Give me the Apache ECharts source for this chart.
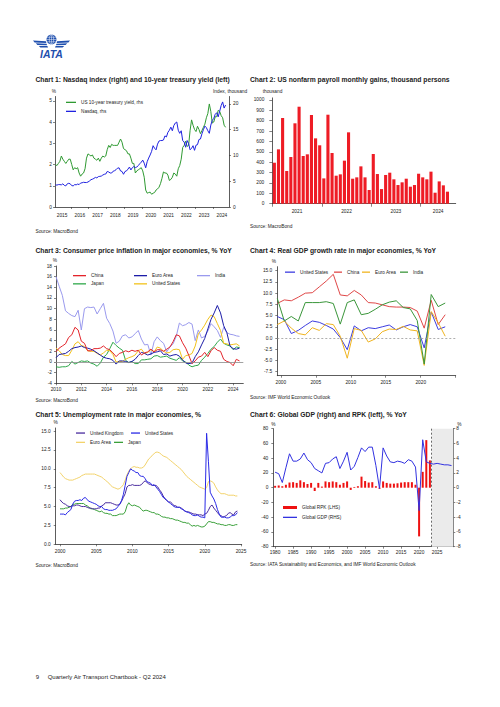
<!DOCTYPE html>
<html><head><meta charset="utf-8"><title>Quarterly Air Transport Chartbook - Q2 2024, page 9</title>
<script src="https://cdn.jsdelivr.net/npm/echarts@6.0.0/dist/echarts.min.js"></script>
<style>html,body{margin:0;padding:0;background:#fff;}#page{width:500px;height:707px;}</style>
</head><body><div id="page"></div>
<script>
const FONT = '"Liberation Sans", Arial, Helvetica, sans-serif';
const INK = '#222';

// ---------- Chart 1: monthly, Feb 2015 - Sep 2024 ----------
const c1FirstYear = 2015, c1FirstMonth = 2;
const c1YearLabels = [2015, 2016, 2017, 2018, 2019, 2020, 2021, 2022, 2023, 2024];
const nasdaq = [ // index, thousand (rhs)
  4.3, 4.25, 4.35, 4.35, 4.3, 4.5, 4.2, 4.1, 4.5, 4.6, 4.5,
  4.15, 4.1, 4.35, 4.3, 4.45, 4.35, 4.65, 4.7, 4.8, 4.75, 4.75, 4.85,
  5.05, 5.3, 5.4, 5.55, 5.75, 5.65, 5.9, 5.95, 6.0, 6.2, 6.35, 6.4,
  6.9, 6.8, 6.6, 6.6, 6.95, 7.05, 7.25, 7.55, 7.6, 7.0, 6.9, 6.35,
  6.9, 7.0, 7.35, 7.75, 7.2, 7.65, 7.85, 7.65, 7.75, 8.05, 8.4, 8.7,
  9.1, 8.5, 7.6, 8.8, 9.5, 10.1, 10.8, 11.9, 11.4, 11.1, 12.2, 12.8,
  12.9, 12.9, 13.0, 13.8, 13.6, 14.5, 14.9, 15.5, 14.8, 15.8, 16.3, 16.5,
  14.9, 14.3, 14.8, 12.9, 12.6, 11.6, 12.9, 12.3, 11.1, 11.4, 11.9, 11.0,
  12.0, 12.1, 13.1, 13.2, 14.2, 15.0, 15.7, 15.4, 14.8, 14.3, 15.9, 16.8,
  17.2, 18.0, 18.3, 17.5, 18.6, 19.7, 20.4, 19.2, 19.8
];
const ust10y = [ // % (lhs)
  2.0, 1.95, 2.05, 2.15, 2.4, 2.25, 2.15, 2.05, 2.15, 2.25, 2.25,
  2.0, 1.75, 1.85, 1.8, 1.85, 1.6, 1.45, 1.55, 1.6, 1.8, 2.3, 2.5,
  2.45, 2.4, 2.45, 2.3, 2.25, 2.2, 2.3, 2.15, 2.3, 2.4, 2.35, 2.4,
  2.7, 2.9, 2.8, 2.95, 2.9, 2.9, 2.9, 2.9, 3.05, 3.2, 3.05, 2.75,
  2.7, 2.65, 2.5, 2.5, 2.3, 2.05, 2.05, 1.6, 1.7, 1.75, 1.8, 1.85,
  1.7, 1.4, 0.8, 0.65, 0.68, 0.7, 0.6, 0.65, 0.68, 0.8, 0.85, 0.93,
  1.1, 1.35, 1.65, 1.6, 1.6, 1.5, 1.25, 1.3, 1.4, 1.6, 1.55, 1.45,
  1.8, 1.95, 2.25, 2.8, 2.9, 3.1, 2.85, 2.9, 3.6, 4.1, 3.85, 3.65,
  3.55, 3.8, 3.65, 3.45, 3.6, 3.75, 3.9, 4.2, 4.4, 4.85, 4.5, 3.95,
  4.0, 4.25, 4.25, 4.55, 4.5, 4.3, 4.2, 3.85, 3.75
];

// ---------- Chart 2: monthly payroll gains from Jan 2021 ----------
const payrollFirstYear = 2021;
const payroll = [
  395, 524, 826, 315, 450, 775, 935, 460, 476, 855, 630, 563,
  244, 858, 489, 270, 283, 415, 688, 241, 254, 360, 254, 132,
  479, 286, 141, 277, 299, 235, 180, 206, 241, 164, 180, 289,
  254, 235, 309, 106, 215, 177, 116
];

// ---------- Chart 3: CPI, quarterly points from 2010.0 ----------
const cpiFirstYear = 2010;
const cpiChina = [1.9, 2.6, 3.0, 3.4, 4.6, 5.1, 6.5, 6.0, 3.9, 3.5, 2.1, 2.1, 2.5, 2.5, 2.6, 3.0, 2.5, 2.3, 1.7, 1.0, 1.6, 1.8, 2.1, 1.9, 2.2, 2.0, 2.2, 1.3, 1.7, 1.9, 2.4, 1.9, 2.3, 2.3, 2.0, 2.4, 2.8, 3.8, 5.1, 4.9, 3.6, 2.6, 1.2, -0.3, 0.2, 0.9, 1.1, 1.8, 1.0, 2.1, 2.7, 2.2, 2.0, 0.5, 0.1, -0.1, -0.7, 0.5, 0.2];
const cpiEuro = [0.8, 1.4, 1.5, 1.6, 2.0, 2.5, 2.7, 2.8, 3.0, 2.7, 2.6, 2.4, 2.1, 1.7, 1.3, 0.9, 0.7, 0.6, 0.3, -0.4, 0.2, 0.2, 0.1, -0.1, 0.1, 0.5, 1.2, 1.8, 1.6, 1.3, 1.5, 1.8, 1.9, 2.1, 1.4, 1.5, 1.1, 1.3, 1.4, 1.1, 0.4, -0.2, -0.3, -0.2, 1.0, 1.9, 3.2, 4.4, 6.2, 8.0, 9.2, 10.6, 9.2, 6.8, 5.5, 3.0, 2.5, 2.4, 2.6];
const cpiIndia = [16.0, 14.2, 12.5, 9.6, 9.1, 8.7, 8.5, 9.7, 6.0, 10.0, 10.3, 10.2, 10.3, 9.0, 10.0, 11.0, 8.2, 7.2, 5.8, 3.5, 3.9, 4.9, 5.1, 4.5, 4.7, 5.3, 5.9, 4.3, 3.2, 3.3, 1.3, 3.8, 4.7, 4.0, 3.5, 1.9, 2.8, 3.4, 4.8, 7.3, 6.8, 7.0, 7.4, 7.1, 4.0, 6.0, 4.5, 4.8, 5.8, 7.2, 6.6, 5.9, 4.6, 6.5, 5.5, 5.2, 5.1, 4.9, 4.8];
const cpiJapan = [-0.9, -1.0, -0.9, -0.9, -0.7, 0.1, -0.4, -0.1, 0.2, 0.1, 0.2, -0.2, -0.4, -0.8, -0.2, 0.9, 1.4, 2.5, 3.7, 3.1, 2.6, 2.2, 0.3, -0.1, 0.1, -0.3, -0.3, 0.4, 0.4, 0.5, 0.6, 1.1, 1.2, 0.9, 1.0, 1.1, 0.7, 0.5, 0.3, 0.8, 0.2, 0.0, -0.6, -0.9, -0.7, -0.6, 0.3, 0.9, 1.6, 2.4, 2.9, 3.7, 4.3, 3.5, 3.2, 3.0, 2.3, 2.8, 2.7];
const cpiUS = [2.6, 2.1, 1.4, 1.2, 1.2, 2.2, 3.4, 3.8, 3.1, 2.9, 2.1, 2.0, 2.0, 1.6, 1.3, 1.7, 2.2, 2.1, 1.4, 0.0, 0.1, 0.1, 0.5, 0.8, 1.0, 1.3, 2.1, 2.4, 1.6, 1.8, 2.3, 1.9, 2.8, 2.6, 2.0, 1.7, 1.8, 2.3, 2.4, 2.3, 0.5, 1.2, 1.3, 1.6, 3.0, 5.3, 6.0, 6.9, 8.0, 8.8, 8.5, 7.2, 5.9, 3.5, 3.4, 3.2, 3.3, 3.4, 3.0];
const cpiYearLabels = [2010, 2012, 2014, 2016, 2018, 2020, 2022, 2024];

// ---------- Chart 4: real GDP growth, annual from 1999 ----------
const gdpFirstYear = 1999;
const gdpUS = [4.8, 4.1, 1.0, 1.7, 2.8, 3.8, 3.5, 2.8, 2.0, 0.1, -2.6, 2.7, 1.6, 2.3, 2.1, 2.5, 2.9, 1.8, 2.5, 3.0, 2.5, -2.2, 5.8, 1.9, 2.5];
const gdpChina = [7.7, 8.5, 8.3, 9.1, 10.0, 10.1, 11.4, 12.7, 14.2, 9.6, 9.4, 10.6, 9.6, 7.9, 7.8, 7.4, 7.0, 6.9, 6.9, 6.8, 6.0, 2.2, 8.4, 3.0, 5.2];
const gdpEuro = [3.0, 3.8, 2.2, 1.0, 0.7, 2.3, 1.7, 3.2, 3.0, 0.4, -4.5, 2.1, 1.7, -0.9, -0.2, 1.4, 2.0, 1.9, 2.6, 1.8, 1.6, -6.1, 5.9, 3.4, 0.4];
const gdpIndia = [8.8, 3.8, 4.8, 3.8, 7.9, 7.9, 7.9, 8.1, 7.7, 3.1, 7.9, 8.5, 5.2, 5.5, 6.4, 7.4, 8.0, 8.3, 6.8, 6.5, 3.9, -5.8, 9.7, 7.0, 7.8];
const gdpYearLabels = [2000, 2005, 2010, 2015, 2020];

// ---------- Chart 5: unemployment, quarterly points from 2000.0 ----------
const unFirstYear = 2000;
const unUK = [5.9,5.6,5.4,5.3, 5.1,5.0,5.0,5.1, 5.1,5.2,5.2,5.1, 5.0,5.0,5.0,4.9, 4.8,4.8,4.7,4.7, 4.7,4.8,4.8,5.1, 5.2,5.5,5.5,5.5, 5.5,5.4,5.3,5.2, 5.2,5.3,5.7,6.2, 6.7,7.6,7.8,7.8, 7.9,7.8,7.8,7.8, 7.8,7.9,8.2,8.4, 8.2,8.0,7.9,7.8, 7.8,7.8,7.6,7.2, 6.9,6.4,6.0,5.8, 5.6,5.6,5.4,5.1, 5.1,4.9,4.9,4.8, 4.6,4.4,4.3,4.3, 4.2,4.1,4.0,4.0, 3.9,3.9,3.9,3.8, 4.0,4.1,4.5,5.0, 5.2,4.8,4.5,4.2, 3.9,3.8,3.6,3.7, 3.8,4.1,4.2,4.0, 3.9,4.3,4.4];
const unUS = [4.0,4.0,4.0,3.9, 4.2,4.4,4.6,5.3, 5.7,5.8,5.8,5.9, 5.8,6.1,6.2,5.9, 5.7,5.6,5.5,5.4, 5.3,5.1,5.0,5.0, 4.7,4.6,4.6,4.5, 4.5,4.5,4.6,4.7, 5.0,5.3,5.8,6.6, 7.8,9.0,9.5,10.0, 9.8,9.7,9.5,9.5, 9.1,9.0,9.0,8.7, 8.3,8.2,8.1,7.8, 7.9,7.6,7.3,7.0, 6.6,6.2,6.1,5.8, 5.6,5.4,5.2,5.0, 4.9,4.9,4.9,4.7, 4.6,4.4,4.3,4.2, 4.1,3.9,3.8,3.8, 3.9,3.7,3.6,3.6, 3.5,14.7,11.0,6.9, 6.4,6.0,5.4,4.6, 4.0,3.6,3.6,3.6, 3.5,3.5,3.6,3.8, 3.8,3.9,4.2];
const unEuro = [9.5,9.2,8.9,8.7, 8.6,8.5,8.5,8.5, 8.6,8.7,8.8,8.9, 9.1,9.2,9.3,9.3, 9.3,9.3,9.3,9.3, 9.2,9.1,9.0,8.9, 8.7,8.5,8.3,8.1, 7.8,7.6,7.5,7.4, 7.3,7.4,7.6,7.9, 8.5,9.2,9.7,10.0, 10.2,10.3,10.2,10.2, 10.1,10.1,10.2,10.5, 10.9,11.3,11.5,11.8, 12.0,12.2,12.2,12.1, 11.9,11.7,11.6,11.5, 11.3,11.1,10.9,10.7, 10.5,10.3,10.1,9.9, 9.6,9.3,9.0,8.8, 8.6,8.4,8.2,8.0, 7.8,7.6,7.5,7.4, 7.3,7.5,8.3,8.4, 8.3,8.1,7.6,7.2, 6.9,6.7,6.7,6.7, 6.6,6.5,6.5,6.5, 6.5,6.4,6.4];
const unJapan = [4.7,4.7,4.7,4.8, 4.8,4.9,5.0,5.3, 5.3,5.4,5.4,5.4, 5.4,5.4,5.2,5.1, 4.9,4.7,4.7,4.6, 4.5,4.4,4.3,4.4, 4.2,4.1,4.1,4.0, 4.0,3.8,3.8,3.8, 3.9,4.0,4.0,4.0, 4.3,5.1,5.5,5.2, 5.1,5.2,5.1,5.0, 4.9,4.6,4.4,4.5, 4.5,4.4,4.3,4.2, 4.2,4.0,4.0,3.9, 3.7,3.6,3.6,3.5, 3.5,3.4,3.4,3.3, 3.2,3.2,3.1,3.0, 2.9,2.9,2.8,2.8, 2.6,2.4,2.5,2.4, 2.5,2.4,2.3,2.3, 2.4,2.7,3.0,3.0, 2.9,2.9,2.8,2.7, 2.7,2.6,2.6,2.5, 2.5,2.6,2.6,2.5, 2.5,2.6,2.6];
const unYearLabels = [2000, 2005, 2010, 2015, 2020, 2025];

// ---------- Chart 6: global RPK (lhs) and GDP (rhs), annual ----------
const rpkFirstYear = 1980;
const rpk = [2.5, 3, 2, 4, 7, 7.5, 6.5, 10, 7.5, 5, 6.5, -4.5, 6.5, 1.5, 8.5, 7.5, 8.5, 7.5, 4, 6.5, 8.5, -3, 1, 2, 15, 9, 7, 7.5, 2, -1.5, 8.5, 6.5, 5.5, 5.5, 6, 7, 7.5, 7.5, 7.5, 4, -66, 21.5, 64.5, 37];
const worldGdpFirstYear = 1980;
const worldGdp = [2.1, 1.9, 0.7, 2.7, 4.6, 3.6, 3.6, 3.9, 4.7, 3.8, 3.4, 2.6, 2.3, 2.0, 3.3, 3.4, 3.9, 4.2, 2.6, 3.6, 4.8, 2.4, 2.9, 4.1, 5.4, 4.9, 5.5, 5.5, 3.0, -0.1, 5.4, 4.3, 3.5, 3.4, 3.6, 3.5, 3.3, 3.8, 3.6, 2.8, -3.1, 6.5, 3.5, 3.3, 3.2, 3.3, 3.2, 3.1, 3.1, 3.0];
const forecastStart = 2023.5;
const c6YearLabels = [1980, 1985, 1990, 1995, 2000, 2005, 2010, 2015, 2020, 2025];

// ---------- helpers ----------
const monthT = (y0, m0, i) => y0 + (m0 - 1 + i + 0.5) / 12;
const toXY = (arr, fn) => arr.map((v, i) => [fn(i), v]);
const range = (a, b, s) => { const r = []; for (let v = a; v <= b + 1e-9; v += s) r.push(+v.toFixed(4)); return r; };

function axis(gridIndex, min, max, o) {
  o = o || {};
  const a = {
    type: 'value', gridIndex, min, max,
    splitLine: { show: false },
    axisLine: { show: true, onZero: false, lineStyle: { color: '#333', width: 0.8 } },
    axisTick: { show: true, length: o.tickLen || 2, inside: false, lineStyle: { color: '#333', width: 0.6 } },
    axisLabel: { show: true, fontSize: 4.8, color: INK, fontFamily: FONT, margin: o.margin || 3,
                 formatter: o.fmt || (v => String(v)) }
  };
  if (o.position) a.position = o.position;
  if (o.interval) a.interval = o.interval;
  if (o.labels) a.axisLabel.customValues = o.labels;
  if (o.ticks) a.axisTick.customValues = o.ticks;
  return a;
}

function line(name, xi, yi, data, color, extra) {
  return Object.assign({
    type: 'line', name, xAxisIndex: xi, yAxisIndex: yi, data, symbol: 'none', showSymbol: false,
    lineStyle: { color, width: 1 }, itemStyle: { color }, animation: false, z: 3
  }, extra || {});
}

// legend entry; line legends use a thin rect as the sample stroke
function lg(name, left, yc, w, h) {
  h = h || 1.3;
  return {
    left, top: yc - h / 2, itemWidth: w, itemHeight: h, padding: 0, itemGap: 0, icon: 'rect',
    selectedMode: false, data: [name], formatter: n => n.split('|')[1],
    textStyle: { fontSize: 4.7, color: INK, fontFamily: FONT, lineHeight: 6 }
  };
}

function T(x, y, text, size, weight, align) {
  return { type: 'text', silent: true,
    style: { x, y, text, font: (weight || 'normal') + ' ' + size + 'px ' + FONT, fill: INK,
             align: align || 'left', verticalAlign: 'middle' } };
}

// ---------- colours ----------
const C = {
  c1Yield: '#2f9a32', c1Nasdaq: '#1f22e0', c2Bar: '#ee1c25',
  c3China: '#e3242b', c3Euro: '#1c1ca8', c3India: '#9a9aee', c3Japan: '#2ea84a', c3US: '#f2c21a',
  c4US: '#3d3de0', c4China: '#e04848', c4Euro: '#f0b420', c4India: '#3a963a',
  c5UK: '#4a2c9e', c5US: '#2a2ae6', c5Euro: '#f3d36b', c5Japan: '#3aa03a',
  c6Bar: '#ee1111', c6Line: '#3232e0'
};

// ---------- logo ----------
const LOGO = '#1f4fae';
const wingL = [
  [[46, 41.2], [33, 40.6], [34.6, 42.4], [46.3, 43.0]],
  [[46.6, 43.7], [35.8, 43.3], [37.4, 44.9], [47.0, 45.3]],
  [[47.4, 46.0], [38.8, 45.9], [40.4, 47.4], [48.0, 47.4]]
];
const logo = [];
wingL.forEach(p => {
  logo.push({ type: 'polygon', shape: { points: p }, style: { fill: LOGO } });
  logo.push({ type: 'polygon', shape: { points: p.map(q => [103 - q[0], q[1]]) }, style: { fill: LOGO } });
});
logo.push({ type: 'circle', shape: { cx: 51.5, cy: 39.5, r: 5 }, style: { fill: LOGO } });
logo.push({ type: 'ellipse', shape: { cx: 51.5, cy: 39.5, rx: 2.2, ry: 5 }, style: { fill: 'none', stroke: '#fff', lineWidth: 0.5 } });
[[51.5, 34.5, 51.5, 44.5], [47, 37.3, 56, 37.3], [46.5, 39.5, 56.5, 39.5], [47, 41.7, 56, 41.7]].forEach(s =>
  logo.push({ type: 'line', shape: { x1: s[0], y1: s[1], x2: s[2], y2: s[3] }, style: { stroke: '#fff', lineWidth: 0.45 } }));
logo.push({ type: 'text', style: { x: 51.5, y: 53.6, text: 'IATA', font: 'italic bold 10.5px ' + FONT, fill: LOGO, align: 'center', verticalAlign: 'middle' } });

const TS = 6.75; // chart title size
const texts = [
  T(35.5, 79.3, 'Chart 1: Nasdaq index (right) and 10-year treasury yield (left)', TS, 'bold'),
  T(250, 79.3, 'Chart 2: US nonfarm payroll monthly gains, thousand persons', TS, 'bold'),
  T(35.5, 250, 'Chart 3: Consumer price inflation in major economies, % YoY', TS, 'bold'),
  T(250, 250, 'Chart 4: Real GDP growth rate in major economies, % YoY', TS, 'bold'),
  T(35.5, 414, 'Chart 5: Unemployment rate in major economies, %', TS, 'bold'),
  T(250, 414, 'Chart 6: Global GDP (right) and RPK (left), % YoY', TS, 'bold'),
  T(35.5, 231, 'Source: MacroBond', 4.8),
  T(250, 226.7, 'Source: MacroBond', 4.8),
  T(35.5, 400.3, 'Source: MacroBond', 4.8),
  T(250, 397.3, 'Source: IMF World Economic Outlook', 4.8),
  T(35.5, 565.7, 'Source: MacroBond', 4.8),
  T(250, 564, 'Source: IATA Sustainability and Economics, and IMF World Economic Outlook', 4.8),
  T(54, 91, '%', 4.8, null, 'center'),
  T(213, 91, 'Index, thousand', 4.8),
  T(272.5, 91, 'thousand', 4.8, null, 'center'),
  T(55, 260.7, '%', 4.8, null, 'center'),
  T(274, 261.7, '%', 4.8, null, 'center'),
  T(55.7, 422.3, '%', 4.8, null, 'center'),
  T(273.3, 424, '%', 4.8, null, 'center'),
  T(459.3, 424, '%', 4.8, null, 'center'),
  T(35.7, 677.3, '9', 6),
  T(47.7, 677.3, 'Quarterly Air Transport Chartbook - Q2 2024', 6)
];

// ---------- option ----------
const option = {
  backgroundColor: '#fff',
  animation: false,
  textStyle: { fontFamily: FONT },
  grid: [
    { left: 55, right: 271, top: 96.5, bottom: 500, outerBoundsMode: 'none' },
    { left: 272.3, right: 44.3, top: 97.9, bottom: 503.3, outerBoundsMode: 'none' },
    { left: 56, right: 256.7, top: 266, bottom: 323.7, outerBoundsMode: 'none' },
    { left: 277.3, right: 44.3, top: 266.7, bottom: 331.3, outerBoundsMode: 'none' },
    { left: 55.7, right: 258.3, top: 428, bottom: 162.7, outerBoundsMode: 'none' },
    { left: 273.3, right: 46.7, top: 428.7, bottom: 160.3, outerBoundsMode: 'none' }
  ],
  xAxis: [
    axis(0, 2015.1, 2024.9, { labels: c1YearLabels.map(y => y + 0.5), ticks: range(2016, 2024, 1), margin: 6, fmt: v => String(Math.floor(v)) }),
    axis(1, 0, 44.5, { labels: [6, 18, 30, 40.25], ticks: [0, 12, 24, 36], tickLen: 3, margin: 5, fmt: v => String(payrollFirstYear + Math.floor(v / 12)) }),
    axis(2, 2010, 2024.8, { labels: cpiYearLabels, ticks: cpiYearLabels, margin: 4 }),
    axis(3, 1999, 2024.5, { labels: gdpYearLabels.map(y => y - 0.5), ticks: gdpYearLabels.map(y => y - 0.5).concat([2024.5]), margin: 4, fmt: v => String(Math.ceil(v)) }),
    axis(4, 1999.4, 2025.1, { labels: unYearLabels, ticks: unYearLabels, margin: 4.6 }),
    axis(5, 1979.5, 2029.5, { labels: c6YearLabels, ticks: c6YearLabels, margin: 3 })
  ],
  yAxis: [
    axis(0, 0, 5.2, { labels: range(0, 5, 1), ticks: range(0, 5, 1), margin: 3 }),
    axis(0, 0, 21.45, { position: 'right', labels: range(0, 20, 5), ticks: range(0, 20, 5), margin: 4 }),
    axis(1, 0, 1020, { labels: range(0, 1000, 100), ticks: range(0, 1000, 100), tickLen: 3, margin: 8 }),
    axis(2, -4, 18, { interval: 2, margin: 4 }),
    axis(3, -8.4, 15.9, { labels: range(-7.5, 15, 2.5), ticks: range(-7.5, 15, 2.5), margin: 5, fmt: v => v.toFixed(1) }),
    axis(4, 0, 15.4, { labels: range(0, 15, 2.5), ticks: range(0, 15, 2.5), margin: 5, fmt: v => v.toFixed(1) }),
    axis(5, -80, 80, { interval: 20, margin: 5 }),
    axis(5, -8, 8, { interval: 2, position: 'right', margin: 3 })
  ],
  legend: [
    lg('c1|US 10-year treasury yield, rhs', 66, 100, 10),
    lg('c1|Nasdaq, rhs', 66, 109, 10),
    lg('c3|China', 73, 273.3, 13),
    lg('c3|Euro Area', 134, 273.3, 13),
    lg('c3|India', 197, 273.3, 13),
    lg('c3|Japan', 73, 281.5, 13),
    lg('c3|United States', 134, 281.5, 13),
    lg('c4|United States', 285, 269.8, 10),
    lg('c4|China', 334, 269.8, 8),
    lg('c4|Euro Area', 362, 269.8, 8),
    lg('c4|India', 400, 269.8, 8),
    lg('c5|United Kingdom', 76, 430.7, 9),
    lg('c5|United States', 131, 430.7, 9),
    lg('c5|Euro Area', 76, 440, 9),
    lg('c5|Japan', 114, 440, 9),
    lg('c6|Global RPK (LHS)', 283, 506, 14, 3),
    lg('c6|Global GDP (RHS)', 283, 515, 14)
  ],
  graphic: logo.concat(texts),
  series: [
    // Chart 1
    line('c1|US 10-year treasury yield, rhs', 0, 0, toXY(ust10y, i => monthT(c1FirstYear, c1FirstMonth, i)), C.c1Yield),
    line('c1|Nasdaq, rhs', 0, 1, toXY(nasdaq, i => monthT(c1FirstYear, c1FirstMonth, i)), C.c1Nasdaq),
    // Chart 2
    { type: 'bar', name: 'c2|Nonfarm payrolls', xAxisIndex: 1, yAxisIndex: 2, barWidth: 3.1,
      data: toXY(payroll, i => i + 0.5), itemStyle: { color: C.c2Bar }, animation: false },
    // Chart 3
    line('c3|India', 2, 3, toXY(cpiIndia, i => cpiFirstYear + i * 0.25), C.c3India, {
      markLine: { silent: true, symbol: ['none', 'none'], label: { show: false },
                  lineStyle: { color: '#8a8a8a', width: 0.8, type: 'solid' }, data: [{ yAxis: 0 }] } }),
    line('c3|Japan', 2, 3, toXY(cpiJapan, i => cpiFirstYear + i * 0.25), C.c3Japan),
    line('c3|United States', 2, 3, toXY(cpiUS, i => cpiFirstYear + i * 0.25), C.c3US),
    line('c3|Euro Area', 2, 3, toXY(cpiEuro, i => cpiFirstYear + i * 0.25), C.c3Euro),
    line('c3|China', 2, 3, toXY(cpiChina, i => cpiFirstYear + i * 0.25), C.c3China),
    // Chart 4
    line('c4|United States', 3, 4, toXY(gdpUS, i => gdpFirstYear + i), C.c4US, {
      markLine: { silent: true, symbol: ['none', 'none'], label: { show: false },
                  lineStyle: { color: '#999', width: 0.8, type: [2, 2] }, data: [{ yAxis: 0 }] } }),
    line('c4|China', 3, 4, toXY(gdpChina, i => gdpFirstYear + i), C.c4China),
    line('c4|Euro Area', 3, 4, toXY(gdpEuro, i => gdpFirstYear + i), C.c4Euro),
    line('c4|India', 3, 4, toXY(gdpIndia, i => gdpFirstYear + i), C.c4India),
    // Chart 5
    line('c5|Euro Area', 4, 5, toXY(unEuro, i => unFirstYear + i * 0.25), C.c5Euro),
    line('c5|Japan', 4, 5, toXY(unJapan, i => unFirstYear + i * 0.25), C.c5Japan),
    line('c5|United Kingdom', 4, 5, toXY(unUK, i => unFirstYear + i * 0.25), C.c5UK),
    line('c5|United States', 4, 5, toXY(unUS, i => unFirstYear + i * 0.25), C.c5US),
    // Chart 6
    { type: 'bar', name: 'c6|Global RPK (LHS)', xAxisIndex: 5, yAxisIndex: 6, barWidth: 2,
      data: toXY(rpk, i => rpkFirstYear + i), itemStyle: { color: C.c6Bar }, animation: false, z: 2,
      markArea: { silent: true, itemStyle: { color: '#ebebeb' }, data: [[{ xAxis: forecastStart }, { xAxis: 2029.5 }]] },
      markLine: { silent: true, symbol: ['none', 'none'], label: { show: false },
                  lineStyle: { color: '#444', width: 0.8, type: [2, 2] }, data: [{ xAxis: forecastStart }] } },
    line('c6|Global GDP (RHS)', 5, 7, toXY(worldGdp, i => worldGdpFirstYear + i), C.c6Line, { z: 5, lineStyle: { color: C.c6Line, width: 1 } })
  ]
};

const chart = echarts.init(document.getElementById('page'), null, { renderer: 'svg', width: 500, height: 707 });
chart.setOption(option);
</script></body></html>
